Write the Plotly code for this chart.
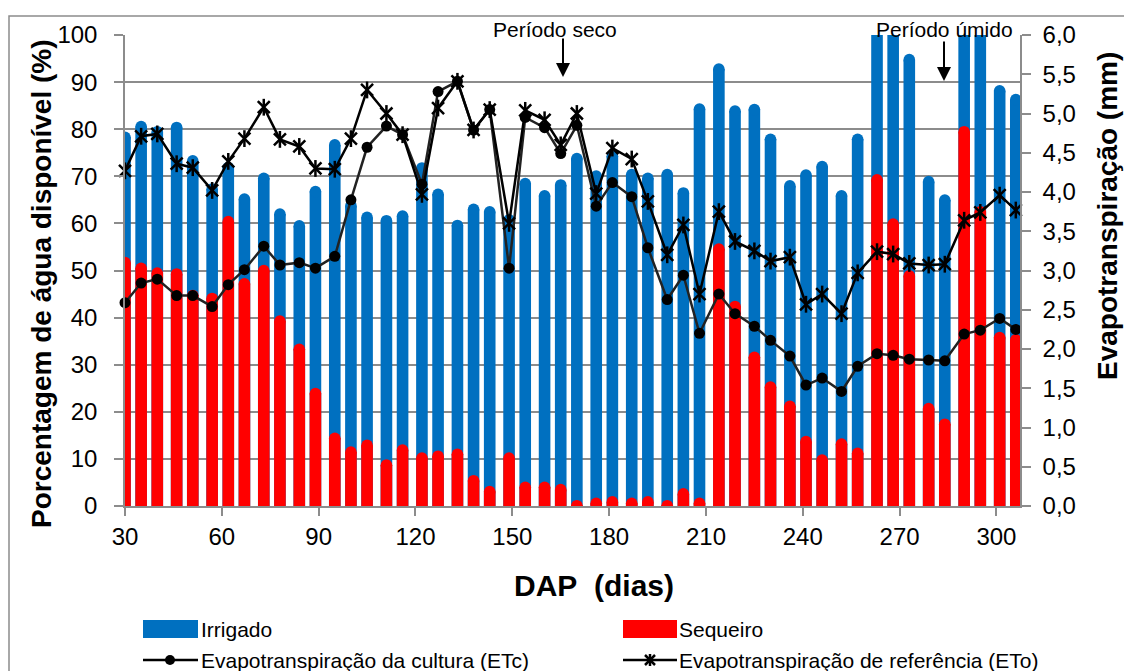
import plotly.graph_objects as go

# Days after planting (DAP) for each sampling
dap = [30, 35, 40, 46, 51, 57, 62, 67, 73, 78, 84, 89, 95, 100, 105, 111, 116, 122, 127, 133,
       138, 143, 149, 154, 160, 165, 170, 176, 181, 187, 192, 198, 203, 208, 214, 219, 225, 230,
       236, 241, 246, 252, 257, 263, 268, 273, 279, 284, 290, 295, 301, 306]

# Available soil water (%)
irrigado = [79.5, 81.8, 80.7, 81.6, 74.5, 68.5, 73.1, 66.4, 70.8, 63.2, 60.7, 68.0, 77.9, 65.0,
            62.5, 61.8, 62.8, 73.0, 67.4, 60.8, 64.2, 63.7, 62.0, 69.7, 67.1, 69.4, 75.0, 71.3,
            75.5, 71.6, 70.8, 71.6, 67.7, 85.5, 94.0, 85.1, 85.4, 79.1, 69.2, 71.5, 73.3, 67.1,
            79.1, 108.0, 108.0, 96.0, 70.1, 66.2, 108.0, 108.0, 89.4, 87.5]
sequeiro = [52.9, 51.7, 50.7, 50.5, 45.9, 45.3, 61.6, 48.4, 51.2, 40.5, 34.5, 25.1, 15.6, 12.7,
            14.1, 9.9, 13.1, 11.4, 11.8, 12.2, 6.6, 4.3, 11.4, 5.2, 5.2, 4.7, 1.3, 1.8, 2.1, 1.8,
            2.1, 1.3, 3.8, 1.8, 55.8, 43.6, 32.8, 26.5, 22.4, 14.9, 11.0, 14.4, 12.4, 70.5, 61.1,
            50.1, 21.9, 18.6, 80.7, 63.7, 37.0, 36.5]

# Evapotranspiration (mm)
etc = [2.59, 2.84, 2.89, 2.68, 2.68, 2.54, 2.82, 3.01, 3.31, 3.07, 3.10, 3.03, 3.18, 3.90, 4.57,
       4.84, 4.73, 4.10, 5.28, 5.41, 4.79, 5.05, 3.03, 4.95, 4.82, 4.49, 4.85, 3.82, 4.12, 3.94,
       3.29, 2.63, 2.94, 2.20, 2.70, 2.45, 2.29, 2.11, 1.91, 1.54, 1.63, 1.46, 1.78, 1.94, 1.92,
       1.87, 1.86, 1.85, 2.19, 2.24, 2.39, 2.25]
eto = [4.27, 4.71, 4.74, 4.36, 4.31, 4.02, 4.39, 4.68, 5.08, 4.67, 4.58, 4.30, 4.29, 4.68, 5.30,
       5.00, 4.73, 3.97, 5.07, 5.41, 4.79, 5.05, 3.60, 5.04, 4.92, 4.60, 5.00, 3.98, 4.56, 4.42,
       3.88, 3.20, 3.58, 2.70, 3.75, 3.37, 3.25, 3.12, 3.17, 2.57, 2.70, 2.45, 2.97, 3.24, 3.21,
       3.09, 3.07, 3.08, 3.64, 3.74, 3.96, 3.77]

x_ticks = [30, 60, 90, 120, 150, 180, 210, 240, 270, 300]

W, H = 1124, 671
L, R, T, B = 125, 1020, 35, 506  # plot-area edges (px)
X_RANGE = [30, 307.3]
Y_RANGE = [0, 100]
BAR_W = 3.6  # bar width in days


def px_x(p):
    return (p - L) / (R - L)


def px_y(p):
    return (B - p) / (B - T)


# rounded bar tops: a circle of the bar's width sits on a body shortened by its radius
bar_px = BAR_W * (R - L) / (X_RANGE[1] - X_RANGE[0])
cap_r = (bar_px / 2) / ((B - T) / (Y_RANGE[1] - Y_RANGE[0]))
irr_body = [v - cap_r for v in irrigado]
seq_body = [v - cap_r for v in sequeiro]

BLUE = "#0070C0"
RED = "#FF0000"
GRID = "#8C8C8C"
FONT = "Liberation Sans, Arial, sans-serif"

fig = go.Figure()
fig.add_bar(x=dap, y=irr_body, name="Irrigado", width=BAR_W,
            marker=dict(color=BLUE, line=dict(width=0)), showlegend=False)
fig.add_bar(x=dap, y=seq_body, name="Sequeiro", width=BAR_W,
            marker=dict(color=RED, line=dict(width=0)), showlegend=False)
fig.add_scatter(x=dap, y=irr_body, mode="markers", showlegend=False, hoverinfo="skip",
                marker=dict(symbol="circle", size=bar_px, color=BLUE, line=dict(width=0)))
fig.add_scatter(x=dap, y=seq_body, mode="markers", showlegend=False, hoverinfo="skip",
                marker=dict(symbol="circle", size=bar_px, color=RED, line=dict(width=0)))
fig.add_scatter(x=dap, y=etc, yaxis="y2", mode="lines+markers", showlegend=False,
                name="Evapotranspiração da cultura (ETc)", cliponaxis=False,
                line=dict(color="#222222", width=2.5),
                marker=dict(symbol="circle", size=11, color="black"))
fig.add_scatter(x=dap, y=eto, yaxis="y2", mode="lines+markers", showlegend=False,
                name="Evapotranspiração de referência (ETo)", cliponaxis=False,
                line=dict(color="black", width=2.5),
                marker=dict(symbol="x-thin-open", size=12, color="black",
                            line=dict(color="black", width=2.5)))
fig.add_scatter(x=dap, y=eto, yaxis="y2", mode="markers", showlegend=False, cliponaxis=False,
                hoverinfo="skip",
                marker=dict(symbol="line-ns-open", size=12, color="black",
                            line=dict(color="black", width=2.5)))

fig.update_layout(
    width=W, height=H,
    margin=dict(l=L, r=W - R, t=T, b=H - B, pad=0),
    paper_bgcolor="white", plot_bgcolor="white",
    barmode="overlay", separators=",.",
    font=dict(family=FONT, color="black"),
    showlegend=False,
    xaxis=dict(range=X_RANGE, tickvals=x_ticks, ticks="outside", ticklen=8,
               tickcolor=GRID, tickwidth=1.5, showline=True, linecolor=GRID, linewidth=1.5,
               showgrid=False, zeroline=False, tickfont=dict(size=24)),
    yaxis=dict(range=Y_RANGE, dtick=10, ticks="outside", ticklen=9, tickcolor=GRID,
               tickwidth=1.5, showline=True, linecolor=GRID, linewidth=1.5, showgrid=True,
               gridcolor=GRID, gridwidth=1.5, zeroline=False, tickfont=dict(size=24),
               ticklabelstandoff=12),
    yaxis2=dict(range=[0, 6], dtick=0.5, tickformat=".1f", overlaying="y", side="right",
                ticks="outside", ticklen=9, tickcolor=GRID, tickwidth=1.5, showline=True,
                linecolor=GRID, linewidth=1.5, showgrid=False, zeroline=False,
                tickfont=dict(size=24), ticklabelstandoff=7),
)

ann = []
# axis titles
ann.append(dict(text="<b>Porcentagem de água disponível (%)</b>", x=px_x(41), y=px_y(284),
                textangle=-90, font=dict(size=28)))
ann.append(dict(text="<b>Evapotranspiração (mm)</b>", x=px_x(1107), y=px_y(216),
                textangle=-90, font=dict(size=28)))
ann.append(dict(text="<b>DAP\u00a0 (dias)</b>", x=px_x(594), y=px_y(585), font=dict(size=30)))
# period labels with arrows
ann.append(dict(text="Período seco", x=px_x(555), y=px_y(29), font=dict(size=21)))
ann.append(dict(text="Período úmido", x=px_x(944), y=px_y(29), font=dict(size=21)))
ann.append(dict(text="", x=px_x(563), y=px_y(77), ax=0, ay=-40, showarrow=True,
                arrowhead=2, arrowsize=1.4, arrowwidth=2, arrowcolor="black"))
ann.append(dict(text="", x=px_x(944), y=px_y(81), ax=0, ay=-41, showarrow=True,
                arrowhead=2, arrowsize=1.4, arrowwidth=2, arrowcolor="black"))
# legend labels
leg_font = dict(size=21)
ann.append(dict(text="Irrigado", x=px_x(199), y=px_y(629), xanchor="left", font=leg_font))
ann.append(dict(text="Sequeiro", x=px_x(677), y=px_y(629), xanchor="left", font=leg_font))
ann.append(dict(text="Evapotranspiração da cultura (ETc)", x=px_x(199), y=px_y(660),
                xanchor="left", font=leg_font))
ann.append(dict(text="Evapotranspiração de referência (ETo)", x=px_x(677), y=px_y(660),
                xanchor="left", font=leg_font))
for a in ann:
    a.setdefault("xref", "paper")
    a.setdefault("yref", "paper")
    a.setdefault("showarrow", False)
    a.setdefault("xanchor", "center")
    a.setdefault("yanchor", "middle")
fig.update_layout(annotations=ann)

shapes = []
# chart frame
shapes.append(dict(type="rect", xref="paper", yref="paper", x0=px_x(9), x1=px_x(1140),
                   y0=px_y(700), y1=px_y(16), line=dict(color=GRID, width=1.5)))
# legend swatches
shapes.append(dict(type="rect", xref="paper", yref="paper", x0=px_x(143), x1=px_x(198),
                   y0=px_y(638), y1=px_y(620), fillcolor=BLUE, line=dict(width=0)))
shapes.append(dict(type="rect", xref="paper", yref="paper", x0=px_x(623), x1=px_x(677),
                   y0=px_y(638), y1=px_y(620), fillcolor=RED, line=dict(width=0)))
shapes.append(dict(type="line", xref="paper", yref="paper", x0=px_x(143), x1=px_x(198),
                   y0=px_y(660), y1=px_y(660), line=dict(color="black", width=2.5)))
shapes.append(dict(type="circle", xref="paper", yref="paper", x0=px_x(165), x1=px_x(175),
                   y0=px_y(665), y1=px_y(655), fillcolor="black", line=dict(width=0)))
shapes.append(dict(type="line", xref="paper", yref="paper", x0=px_x(623), x1=px_x(677),
                   y0=px_y(660), y1=px_y(660), line=dict(color="black", width=2.5)))
for dx0, dy0, dx1, dy1 in [(-5, -5, 5, 5), (-5, 5, 5, -5), (0, -6, 0, 6)]:
    shapes.append(dict(type="line", xref="paper", yref="paper",
                       x0=px_x(650 + dx0), x1=px_x(650 + dx1),
                       y0=px_y(660 + dy0), y1=px_y(660 + dy1),
                       line=dict(color="black", width=2.5)))
fig.update_layout(shapes=shapes)

fig.write_html("out.html")
